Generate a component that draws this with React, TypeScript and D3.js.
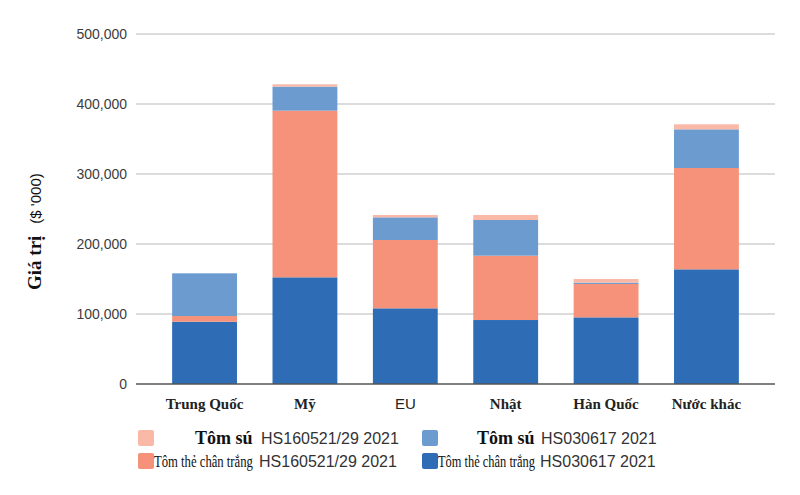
import { useEffect, useRef } from 'react';
import { select, scaleBand, scaleLinear, stack, format } from 'd3';

// Data
const categories = ['Trung Quốc', 'Mỹ', 'EU', 'Nhật', 'Hàn Quốc', 'Nước khác'];
const whiteLeg030617 = [89000, 152400, 108100, 91400, 95200, 163800];
const whiteLeg160521 = [8100, 238100, 97600, 91900, 47700, 144800];
const tiger030617 = [61000, 34300, 32400, 51000, 1900, 55200];
const tiger160521 = [0, 3300, 3300, 7100, 5200, 7200];
const yTicks = [0, 100000, 200000, 300000, 400000, 500000];

const seriesKeys = ['whiteLeg030617', 'whiteLeg160521', 'tiger030617', 'tiger160521'];
const seriesColors = ['#2e6db6', '#f59279', '#6b9bcf', '#fab8a6'];
const seriesName = ['Tôm thẻ chân trắng', 'Tôm thẻ chân trắng', 'Tôm sú', 'Tôm sú'];
const seriesCode = ['HS030617 2021', 'HS160521/29 2021', 'HS030617 2021', 'HS160521/29 2021'];

export default function App() {
  const svgRef = useRef<SVGSVGElement>(null);

  useEffect(() => {
    if (!svgRef.current) return;
    const svg = select(svgRef.current);
    svg.selectAll('*').remove();

    const width = 800;
    const height = 495;
    const left = 136;
    const right = 775;
    const top = 34;
    const bottom = 384;

    const rows = categories.map((c, i) => ({
      category: c,
      whiteLeg030617: whiteLeg030617[i],
      whiteLeg160521: whiteLeg160521[i],
      tiger030617: tiger030617[i],
      tiger160521: tiger160521[i],
    }));

    const x = scaleBand<string>()
      .domain(categories)
      .range([left, right])
      .paddingInner(0.354)
      .paddingOuter(0.36);

    const y = scaleLinear().domain([0, 500000]).range([bottom, top]);

    svg.attr('width', width).attr('height', height);
    svg.append('rect').attr('width', width).attr('height', height).attr('fill', '#fff');

    // Grid + tick labels
    const fmt = format(',');
    yTicks.forEach((t) => {
      if (t !== 0) {
        svg.append('line')
          .attr('x1', left).attr('x2', right)
          .attr('y1', y(t)).attr('y2', y(t))
          .attr('stroke', '#d0d0d0')
          .attr('stroke-width', 1.5);
      }
      svg.append('text')
        .attr('x', 127)
        .attr('y', y(t))
        .attr('dy', '0.35em')
        .attr('text-anchor', 'end')
        .attr('font-family', 'Liberation Sans, Arial, sans-serif')
        .attr('font-size', 14)
        .attr('fill', '#3c3c3c')
        .text(fmt(t));
    });

    // Stacked bars
    const stacked = stack<any>().keys(seriesKeys)(rows);
    stacked.forEach((layer, si) => {
      svg.append('g')
        .selectAll('rect')
        .data(layer)
        .join('rect')
        .attr('x', (d: any) => x(d.data.category) as number)
        .attr('width', x.bandwidth())
        .attr('y', (d: any) => y(d[1]))
        .attr('height', (d: any) => Math.max(0, y(d[0]) - y(d[1])))
        .attr('fill', seriesColors[si]);
    });

    // Baseline
    svg.append('line')
      .attr('x1', left).attr('x2', right)
      .attr('y1', bottom).attr('y2', bottom)
      .attr('stroke', '#555')
      .attr('stroke-width', 1.5);

    // X labels
    categories.forEach((c) => {
      const isLatin = c === 'EU';
      svg.append('text')
        .attr('x', (x(c) as number) + x.bandwidth() / 2)
        .attr('y', 409)
        .attr('text-anchor', 'middle')
        .attr('font-family', isLatin ? 'Liberation Sans, Arial, sans-serif' : 'Liberation Serif, Times New Roman, serif')
        .attr('font-weight', isLatin ? 'normal' : 'bold')
        .attr('font-size', 15)
        .attr('fill', '#222')
        .text(c);
    });

    // Y axis title
    const yt = svg.append('text')
      .attr('transform', 'translate(41,290) rotate(-90)')
      .attr('text-anchor', 'start')
      .attr('fill', '#111');
    yt.append('tspan')
      .attr('font-family', 'Liberation Serif, Times New Roman, serif')
      .attr('font-weight', 'bold')
      .attr('font-size', 19)
      .text('Giá trị');
    yt.append('tspan')
      .attr('dx', 12)
      .attr('font-family', 'Liberation Sans, Arial, sans-serif')
      .attr('font-size', 15)
      .text("($ '000)");

    // Legend
    const legendItems = [
      { si: 3, sx: 138, sy: 430, nameX: 195, nameW: 60, codeX: 261, bold: true },
      { si: 2, sx: 422, sy: 430, nameX: 477, nameW: 58, codeX: 541, bold: true },
      { si: 1, sx: 138, sy: 453, nameX: 154, nameW: 99, codeX: 259, bold: false },
      { si: 0, sx: 422, sy: 453, nameX: 438, nameW: 97, codeX: 540, bold: false },
    ];
    legendItems.forEach((it) => {
      svg.append('rect')
        .attr('x', it.sx).attr('y', it.sy)
        .attr('width', 16).attr('height', 16)
        .attr('rx', 2)
        .attr('fill', seriesColors[it.si]);
      const name = svg.append('text')
        .attr('font-family', 'Liberation Serif, Times New Roman, serif')
        .attr('font-weight', it.bold ? 'bold' : 'normal')
        .attr('font-size', it.bold ? 18 : 16)
        .attr('fill', '#111')
        .text(seriesName[it.si]);
      // squeeze the serif name horizontally to the width it has in the legend
      const natural = (name.node() as SVGTextElement).getComputedTextLength() || it.nameW;
      const sx = Math.min(1, it.nameW / natural);
      name.attr('transform', `translate(${it.nameX},${it.sy + 14}) scale(${sx},1)`);
      svg.append('text')
        .attr('x', it.codeX)
        .attr('y', it.sy + 14)
        .attr('font-family', 'Liberation Sans, Arial, sans-serif')
        .attr('font-size', 16)
        .attr('fill', '#333')
        .text(seriesCode[it.si]);
    });
  }, []);

  return (
    <div style={{ position: 'absolute', left: 0, top: 0 }}>
      <svg ref={svgRef} style={{ display: 'block' }} />
    </div>
  );
}
